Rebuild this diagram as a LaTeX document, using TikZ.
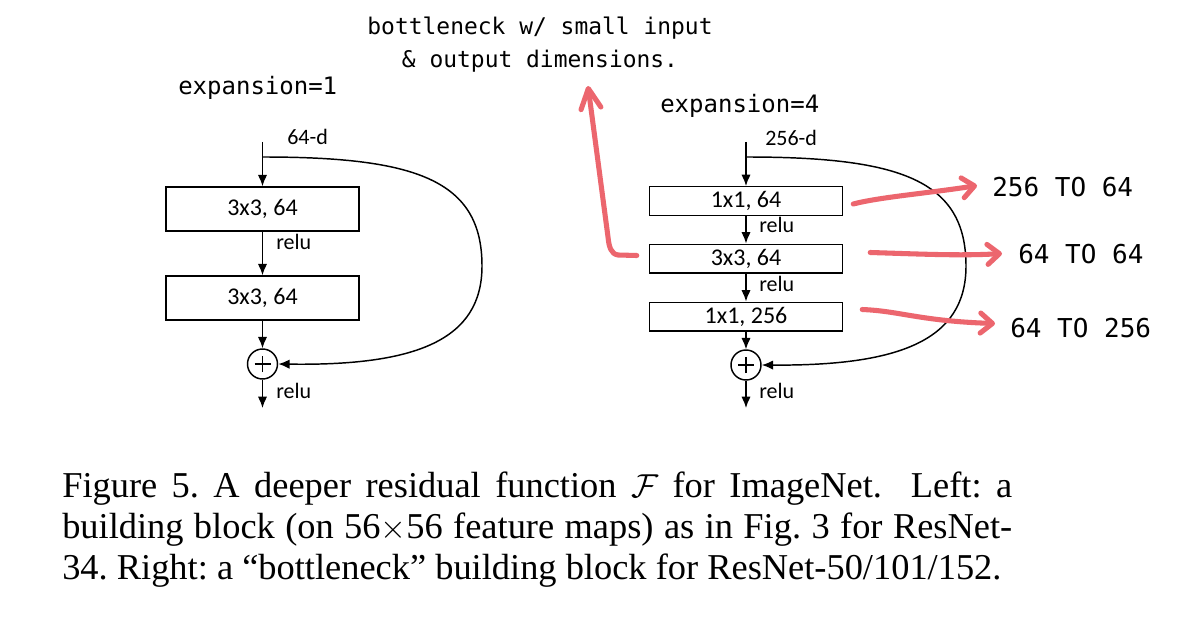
\documentclass[tikz,border=0pt]{standalone}
\usepackage{fontspec}
\setmainfont{Liberation Serif}
\newfontfamily\carl{Carlito}
\newfontfamily\monof{DejaVu Sans Mono}
\usetikzlibrary{arrows.meta,calc}
\definecolor{pen}{RGB}{236,102,110}
\tikzset{
  blk/.style={draw, line width=1.1pt, minimum width=144.75pt, inner sep=0pt, font=\carl\fontsize{18}{21}\selectfont},
  lbl/.style={inner sep=0pt, anchor=base west, font=\carl\fontsize{16.5}{19}\selectfont},
  explbl/.style={inner sep=0pt, anchor=base west, font=\monof\fontsize{18}{22}\selectfont},
  notelbl/.style={inner sep=0pt, anchor=base, font=\monof\fontsize{17.2}{22}\selectfont},
  redlbl/.style={inner sep=0pt, anchor=base west, font=\monof\fontsize{19.5}{24}\selectfont},
  caplbl/.style={inner sep=0pt, anchor=base west, font=\fontsize{27.3}{30}\selectfont\frenchspacing},
  conn/.style={line width=1.1pt, -{Latex[length=8.5pt,width=7pt]}},
  sumnode/.style={draw, circle, line width=1.1pt, minimum size=22.5pt, inner sep=0pt,
    path picture={\draw[line width=1.1pt] ([xshift=-6pt]path picture bounding box.center) -- ([xshift=6pt]path picture bounding box.center);
                  \draw[line width=1.1pt] ([yshift=-6pt]path picture bounding box.center) -- ([yshift=6pt]path picture bounding box.center);}},
  redarrow/.style={draw=pen, line width=3.8pt, line cap=round, line join=round,
    -{Straight Barb[length=9pt,width=15pt,line cap=round,line join=round]}},
  redup/.style={draw=pen, line width=3.8pt, line cap=round, line join=round,
    -{Straight Barb[length=15pt,width=15pt,line cap=round,line join=round]}},
}
\begin{document}
\begin{tikzpicture}[x=0.75pt,y=-0.75pt]
\useasboundingbox[fill=white] (0,0) rectangle (1178,624);

% ---------- left block ----------
\node[explbl] (Lexp) at (178,95) {expansion=1};
\coordinate (Lin) at (262.5,142);
\coordinate (Lsk) at (262.5,157);
\node[blk, minimum height=33pt] (L1) at (262.5,209) {3x3, 64};
\node[blk, minimum height=33pt] (L2) at (262.5,298) {3x3, 64};
\node[sumnode] (Ls) at (262.5,364) {};
\coordinate (Lout) at (262.5,408);
\node[lbl] (Ld) at (287,145) {64-d};
\node[lbl] (Lr1) at (276,249) {relu};
\node[lbl] (Lr2) at (276,398) {relu};
\draw[conn] (Lin) -- (L1);
\draw[conn] (L1) -- (L2);
\draw[conn] (L2) -- (Ls);
\draw[conn] (Ls) -- (Lout);
\draw[conn] (Lsk) .. controls (416,157) and (482,180) .. (482,266) .. controls (482,340) and (416,366) .. (Ls.east);

% ---------- right block ----------
\node[explbl] (Rexp) at (660,113) {expansion=4};
\coordinate (Rin) at (746,142);
\coordinate (Rsk) at (746,157);
\node[blk, minimum height=21.4pt] (R1) at (746,201) {1x1, 64};
\node[blk, minimum height=21.4pt] (R2) at (746,258.5) {3x3, 64};
\node[blk, minimum height=21.4pt] (R3) at (746,316.5) {1x1, 256};
\node[sumnode] (Rs) at (746,365) {};
\coordinate (Rout) at (746,408);
\node[lbl] (Rd) at (765,146) {256-d};
\node[lbl] (Rr1) at (759,233) {relu};
\node[lbl] (Rr2) at (759,291) {relu};
\node[lbl] (Rr3) at (759,398) {relu};
\draw[conn] (Rin) -- (R1);
\draw[conn] (R1) -- (R2);
\draw[conn] (R2) -- (R3);
\draw[conn] (R3) -- (Rs);
\draw[conn] (Rs) -- (Rout);
\draw[conn] (Rsk) .. controls (900,157) and (966,180) .. (966,266) .. controls (966,340) and (900,366) .. (Rs.east);

% ---------- annotations ----------
\node[notelbl] (note1) at (540,35) {bottleneck w/ small input};
\node[notelbl] (note2) at (540,68) {\& output dimensions.};
\node[redlbl] (t1) at (992,197) {256 TO 64};
\node[redlbl] (t2) at (1018,263) {64 TO 64};
\node[redlbl] (t3) at (1010,337) {64 TO 256};
\coordinate (upT) at (588,86);

\draw[redarrow] ($(R1.east)+(10,3)$) .. controls (880,197) and (930,193) .. ($(t1.west)+(-15,-2)$);
\draw[redarrow] ($(R2.east)+(27,-6)$) .. controls (920,254) and (960,256) .. ($(t2.west)+(-16,0)$);
\draw[redarrow] ($(R3.east)+(19,-7)$) .. controls (900,311) and (920,321) .. ($(t3.west)+(-15,-4)$);
\draw[redup] ($(R2.west)+(-12,-3)$) -- (618,255) .. controls (611,254) and (609,247) .. (608,237) -- (upT);

% ---------- caption ----------
\node[caplbl] (c1) at (62,497) {\makebox[712.5pt][s]{Figure 5. A deeper residual function $\mathcal{F}$ for ImageNet.\ \ Left:\ a}};
\node[caplbl] (c2) at (62,538) {\makebox[712.5pt][s]{building block (on 56$\times$56 feature maps) as in Fig. 3 for ResNet-}};
\node[caplbl] (c3) at (62,579) {34. Right: a “bottleneck” building block for ResNet-50/101/152.};
\end{tikzpicture}
\end{document}
